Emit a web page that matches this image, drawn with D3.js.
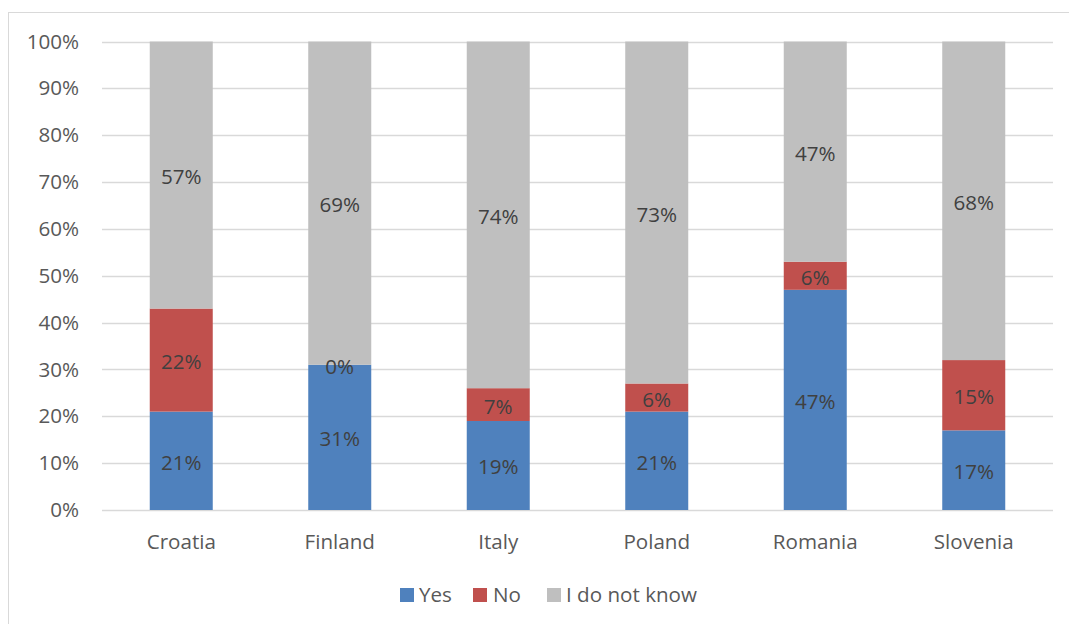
<!DOCTYPE html>
<html><head><meta charset="utf-8">
<script src="https://cdn.jsdelivr.net/npm/d3@7"></script>
<style>
html,body{margin:0;padding:0;background:#fff;}
svg{display:block;font-family:"Open Sans",sans-serif;}
</style></head>
<body>
<svg id="chart" width="1069" height="624"></svg>
<script>
const categories = ["Croatia","Finland","Italy","Poland","Romania","Slovenia"];
const seriesNames = ["Yes","No","I do not know"];
const yesValues = [21,31,19,21,47,17];
const noValues = [22,0,7,6,6,15];
const dontKnowValues = [57,69,74,73,47,68];
const yTicks = [0,10,20,30,40,50,60,70,80,90,100];
const colors = ["#4F81BD","#C0504D","#BFBFBF"];

(function(){
const svg = d3.select("#chart");
const FS = 20.6;
// outer border (chart area, cropped at right/bottom)
svg.append("rect").attr("x",8.5).attr("y",12.5).attr("width",1080).attr("height",640)
  .attr("fill","none").attr("stroke","#D9D9D9").attr("stroke-width",1);

const pLeft = 102, pRight = 1053, pTop = 41.5, pBottom = 510;
const x = d3.scaleBand().domain(categories).range([pLeft,pRight]).paddingInner(0.6).paddingOuter(0.3);
const y = d3.scaleLinear().domain([0,100]).range([pBottom,pTop]);

// gridlines
svg.append("g").selectAll("line").data(yTicks).join("line")
  .attr("x1",pLeft).attr("x2",pRight)
  .attr("y1",d=>Math.round(y(d))+0.5).attr("y2",d=>Math.round(y(d))+0.5)
  .attr("stroke","#D9D9D9").attr("stroke-width",1.3);

// y axis labels
const yAxis = d3.axisLeft(y).tickValues(yTicks).tickFormat(d=>d+"%").tickSize(0).tickPadding(23);
const gy = svg.append("g").attr("transform",`translate(${pLeft},0)`).call(yAxis);
gy.select(".domain").remove();
gy.selectAll("text").attr("font-size",FS).attr("fill","#595959").attr("font-family","'Open Sans',sans-serif");

// stack data
const rows = categories.map((c,i)=>({cat:c,"Yes":yesValues[i],"No":noValues[i],"I do not know":dontKnowValues[i]}));
const stack = d3.stack().keys(seriesNames)(rows);

const bw = 63;
const layers = svg.append("g").selectAll("g").data(stack).join("g").attr("fill",(d,i)=>colors[i]);
layers.selectAll("rect").data(d=>d).join("rect")
  .attr("x",d=>x(d.data.cat)+x.bandwidth()/2-bw/2)
  .attr("width",bw)
  .attr("y",d=>y(d[1]))
  .attr("height",d=>y(d[0])-y(d[1]));

// data labels
const lab = svg.append("g");
stack.forEach(layer=>{
  layer.forEach(d=>{
    const v = d[1]-d[0];
    lab.append("text")
      .attr("x",x(d.data.cat)+x.bandwidth()/2)
      .attr("y",y((d[0]+d[1])/2)+1)
      .attr("text-anchor","middle").attr("dominant-baseline","central")
      .attr("font-size",FS).attr("fill","#404040")
      .text(v+"%");
  });
});

// x axis labels
const xAxis = d3.axisBottom(x).tickSize(0).tickPadding(24);
const gx = svg.append("g").attr("transform",`translate(0,${pBottom})`).call(xAxis);
gx.select(".domain").remove();
gx.selectAll("text").attr("font-size",FS).attr("fill","#595959").attr("font-family","'Open Sans',sans-serif");

// legend
const legendItems = [{sx:400,tx:419},{sx:473,tx:493},{sx:547,tx:566}];
const lg = svg.append("g");
legendItems.forEach((it,i)=>{
  lg.append("rect").attr("x",it.sx).attr("y",588).attr("width",14).attr("height",14).attr("fill",colors[i]);
  lg.append("text").attr("x",it.tx).attr("y",594).attr("dominant-baseline","central")
    .attr("font-size",FS).attr("fill","#595959").text(seriesNames[i]);
});
})();
</script>
</body></html>
